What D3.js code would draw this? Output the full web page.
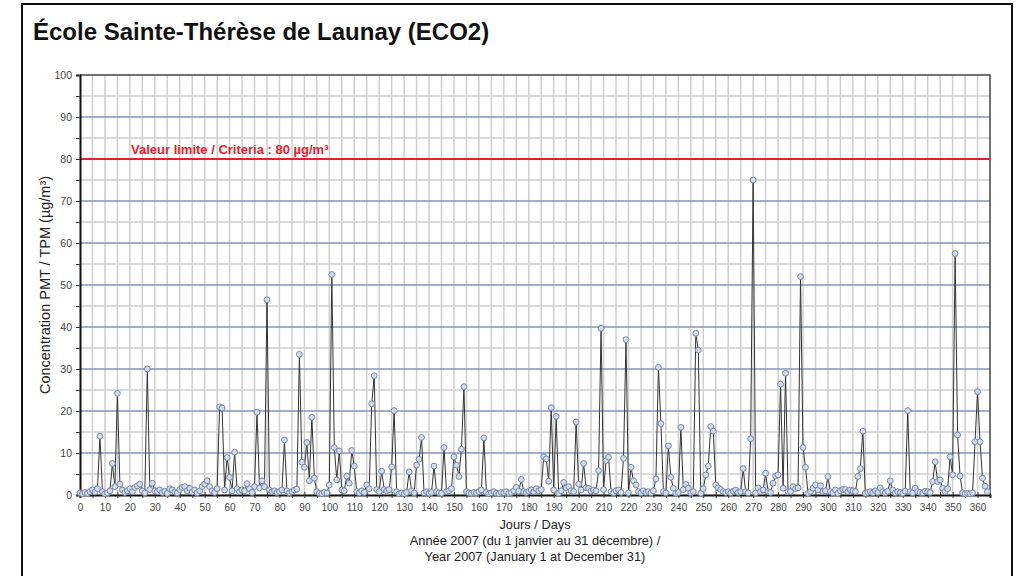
<!DOCTYPE html>
<html>
<head>
<meta charset="utf-8">
<script src="https://cdn.jsdelivr.net/npm/d3@7"></script>
<style>
  body { margin: 0; background: #fff; }
  svg { display: block; font-family: "Liberation Sans", Arial, sans-serif; }
</style>
</head>
<body>
<div id="chart"></div>
<script>
// daily concentrations, day 0..364
var values = [
  0.5, 0.3, 0.6, 0.4, 0.8, 1.2, 0.7, 1.5, 14.0, 0.8,
  0.3, 0.5, 1.0, 7.5, 2.0, 24.2, 2.6, 1.2, 0.6, 1.0,
  1.5, 0.8, 1.8, 2.2, 2.6, 1.0, 0.5, 30.0, 1.3, 2.8,
  1.0, 0.8, 1.2, 0.6, 0.9, 0.4, 1.5, 1.2, 0.7, 0.5,
  1.3, 1.8, 2.0, 1.0, 1.6, 0.7, 1.2, 0.5, 1.0, 2.0,
  2.6, 3.4, 2.0, 1.0, 0.6, 1.5, 21.0, 20.7, 1.2, 8.9,
  4.2, 1.0, 10.2, 1.5, 0.8, 1.2, 1.0, 2.7, 1.5, 0.6,
  2.0, 19.7, 1.7, 3.4, 2.0, 46.5, 1.2, 0.8, 1.0, 0.6,
  0.8, 1.2, 13.1, 1.0, 0.5, 0.8, 1.2, 1.4, 33.5, 7.8,
  6.6, 12.5, 3.4, 18.5, 4.0, 0.8, 0.4, 0.3, 0.6, 0.5,
  2.4, 52.5, 11.3, 3.6, 10.5, 1.2, 1.0, 4.5, 2.8, 10.6,
  6.9, 0.8, 0.5, 1.0, 0.6, 2.4, 1.5, 21.7, 28.4, 1.3,
  0.8, 5.7, 1.3, 1.0, 1.3, 6.7, 20.1, 0.8, 0.3, 0.5,
  0.3, 0.6, 5.5, 1.0, 0.5, 7.1, 8.5, 13.7, 0.5, 0.8,
  0.4, 0.6, 6.9, 0.8, 0.5, 0.4, 11.3, 0.8, 1.0, 1.5,
  9.1, 7.1, 4.4, 10.9, 25.8, 0.8, 0.5, 0.4, 0.6, 0.5,
  0.8, 1.2, 13.6, 0.6, 0.3, 0.5, 0.8, 0.4, 0.3, 0.6,
  0.5, 0.8, 0.4, 0.6, 1.0, 1.8, 0.9, 3.7, 0.8, 0.6,
  0.9, 1.2, 0.8, 1.5, 1.0, 1.3, 9.1, 8.6, 3.3, 20.8,
  1.2, 18.7, 0.4, 1.0, 3.0, 1.7, 2.0, 1.0, 0.8, 17.4,
  2.6, 1.2, 7.5, 1.7, 1.6, 0.9, 1.2, 1.0, 5.8, 39.7,
  1.3, 8.2, 9.0, 0.8, 0.5, 1.0, 1.2, 0.6, 8.7, 37.0,
  0.5, 6.6, 3.4, 2.4, 0.8, 0.5, 1.0, 0.6, 0.8, 0.5,
  1.0, 3.8, 30.4, 17.0, 0.8, 0.5, 11.7, 4.2, 1.6, 0.4,
  0.6, 16.1, 1.3, 2.5, 1.6, 0.5, 0.8, 38.5, 34.5, 0.4,
  1.5, 4.8, 6.9, 16.3, 15.2, 2.4, 1.7, 1.3, 0.8, 0.6,
  0.8, 0.5, 0.9, 1.2, 0.6, 0.8, 6.3, 0.8, 0.5, 13.4,
  75.0, 0.5, 1.7, 0.8, 1.2, 5.2, 0.8, 0.6, 2.8, 4.5,
  4.8, 26.4, 1.6, 29.0, 0.8, 0.8, 2.0, 1.5, 1.7, 52.0,
  11.3, 6.6, 0.4, 0.8, 1.6, 2.4, 1.2, 2.2, 0.8, 1.0,
  4.4, 0.8, 0.5, 1.2, 0.4, 1.0, 1.3, 1.3, 0.8, 1.2,
  1.0, 0.8, 4.4, 6.3, 15.2, 0.4, 0.6, 0.8, 0.5, 1.0,
  0.6, 1.7, 0.8, 0.5, 0.9, 3.4, 1.2, 0.5, 0.8, 0.6,
  0.4, 0.9, 20.1, 0.8, 0.5, 1.6, 0.8, 0.6, 0.5, 0.9,
  0.8, 0.6, 3.2, 7.9, 3.2, 3.6, 1.6, 0.8, 1.5, 9.1,
  4.8, 57.5, 14.3, 4.5, 0.5, 0.3, 0.4, 0.3, 0.5, 12.7,
  24.6, 12.7, 4.0, 2.1, 0.8
];
var yTicks = [0, 10, 20, 30, 40, 50, 60, 70, 80, 90, 100];
var xTicks = d3.range(0, 361, 10);
var limitValue = 80;
var limitLabel = 'Valeur limite / Criteria : 80 µg/m³';
var title = 'École Sainte-Thérèse de Launay (ECO2)';
var yTitle = 'Concentration PMT / TPM (µg/m³)';
var xTitleLines = ['Jours / Days', 'Année 2007 (du 1 janvier au 31 décembre) /', 'Year 2007 (January 1 at December 31)'];

var width = 1029, height = 576;
var margin = { top: 75, right: 39, bottom: 81, left: 80 };
var plotW = width - margin.left - margin.right;
var plotH = height - margin.top - margin.bottom;

var svg = d3.select('#chart').append('svg')
  .attr('width', width)
  .attr('height', height);

// outer frame
svg.append('rect')
  .attr('x', 22).attr('y', 4)
  .attr('width', 990).attr('height', 600)
  .attr('fill', 'none')
  .attr('stroke', '#111')
  .attr('stroke-width', 2);

svg.append('text')
  .attr('x', 33).attr('y', 40)
  .attr('font-size', 24).attr('font-weight', 'bold')
  .attr('fill', '#111')
  .text(title);

var x = d3.scaleLinear().domain([0, 365]).range([0, plotW]);
var y = d3.scaleLinear().domain([0, 100]).range([plotH, 0]);

var g = svg.append('g')
  .attr('transform', 'translate(' + margin.left + ',' + margin.top + ')');

// vertical grid every 5 days
g.append('g').selectAll('line')
  .data(d3.range(5, 365, 5))
  .enter().append('line')
  .attr('x1', function(d) { return x(d); })
  .attr('x2', function(d) { return x(d); })
  .attr('y1', 0).attr('y2', plotH)
  .attr('stroke', '#cfcfcf').attr('stroke-width', 1.5);

// horizontal grid every 5 units
g.append('g').selectAll('line')
  .data(d3.range(5, 100, 5))
  .enter().append('line')
  .attr('x1', 0).attr('x2', plotW)
  .attr('y1', function(d) { return y(d); })
  .attr('y2', function(d) { return y(d); })
  .attr('stroke', function(d) { return d % 10 === 0 ? '#8496ba' : '#cfcfcf'; })
  .attr('stroke-width', 1.5);

// plot frame top / right
g.append('path')
  .attr('d', 'M0,0H' + plotW + 'V' + plotH)
  .attr('fill', 'none')
  .attr('stroke', '#444').attr('stroke-width', 1.5);

// limit line
g.append('line')
  .attr('x1', 0).attr('x2', plotW)
  .attr('y1', y(limitValue)).attr('y2', y(limitValue))
  .attr('stroke', '#e3202b').attr('stroke-width', 2);
g.append('text')
  .attr('x', 51).attr('y', y(limitValue) - 5)
  .attr('font-size', 13).attr('font-weight', 'bold')
  .attr('fill', '#e3202b')
  .text(limitLabel);

// axes
var yAxis = d3.axisLeft(y).tickValues(d3.range(0, 101, 5)).tickSize(4).tickPadding(4)
  .tickFormat(function(d) { return yTicks.indexOf(d) >= 0 ? d : ''; });
var yg = g.append('g').call(yAxis);
yg.select('.domain').attr('stroke', '#111').attr('stroke-width', 2);
yg.selectAll('.tick line').attr('stroke', '#333');
yg.selectAll('.tick text').attr('fill', '#444').attr('font-size', 10.5);

var xAxis = d3.axisBottom(x).tickValues(d3.range(0, 366, 5)).tickSize(3).tickPadding(6)
  .tickFormat(function(d) { return xTicks.indexOf(d) >= 0 ? d : ''; });
var xg = g.append('g').attr('transform', 'translate(0,' + plotH + ')').call(xAxis);
xg.select('.domain').attr('stroke', '#111').attr('stroke-width', 2);
xg.selectAll('.tick line').attr('stroke', '#333').attr('y1', -3);
xg.selectAll('.tick text').attr('fill', '#444').attr('font-size', 10);

// series
var line = d3.line()
  .x(function(d, i) { return x(i); })
  .y(function(d) { return y(d); });
g.append('path')
  .datum(values)
  .attr('d', line)
  .attr('fill', 'none')
  .attr('stroke', '#333')
  .attr('stroke-width', 1);
g.append('g').selectAll('circle')
  .data(values)
  .enter().append('circle')
  .attr('cx', function(d, i) { return x(i); })
  .attr('cy', function(d) { return y(d); })
  .attr('r', 2.9)
  .attr('fill', '#d4dceb')
  .attr('stroke', '#7387a8')
  .attr('stroke-width', 1);

// titles
svg.append('text')
  .attr('transform', 'translate(50,' + (margin.top + plotH / 2) + ') rotate(-90)')
  .attr('text-anchor', 'middle')
  .attr('font-size', 14.5).attr('fill', '#222')
  .text(yTitle);

svg.append('g').selectAll('text')
  .data(xTitleLines)
  .enter().append('text')
  .attr('x', 535)
  .attr('y', function(d, i) { return 529 + i * 16; })
  .attr('text-anchor', 'middle')
  .attr('font-size', 12.8).attr('fill', '#222')
  .text(function(d) { return d; });
</script>
</body>
</html>
